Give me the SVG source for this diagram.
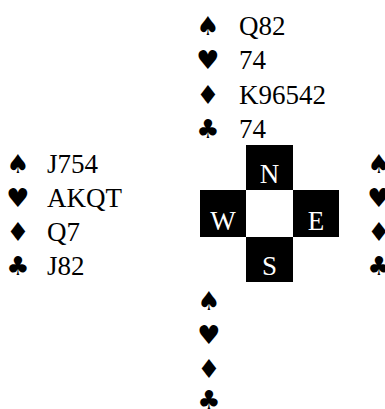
<svg xmlns="http://www.w3.org/2000/svg" width="385" height="409" viewBox="0 0 385 409">
<style>
.t{font-family:"Liberation Serif","DejaVu Serif",serif;font-size:27px;fill:#000}
.s{font-family:"DejaVu Sans",sans-serif;font-size:26px;fill:#000;text-anchor:middle}
.d{font-family:"Liberation Serif","DejaVu Serif",serif;font-size:27px;fill:#fff;text-anchor:middle}
.b{fill:#000}
</style>
<rect width="385" height="409" fill="#fff"/>
<g id="north">
<text class="s" x="208" y="35">♠</text><text class="t" x="239" y="35">Q82</text>
<text class="s" x="208" y="69">♥</text><text class="t" x="239" y="69">74</text>
<text class="s" x="208" y="104">♦</text><text class="t" x="239" y="104">K96542</text>
<text class="s" x="208" y="138">♣</text><text class="t" x="239" y="138">74</text>
</g>
<g id="west">
<text class="s" x="18" y="173">♠</text><text class="t" x="47" y="173">J754</text>
<text class="s" x="18" y="207">♥</text><text class="t" x="47" y="207">AKQT</text>
<text class="s" x="18" y="241">♦</text><text class="t" x="47" y="241">Q7</text>
<text class="s" x="18" y="275">♣</text><text class="t" x="47" y="275">J82</text>
</g>
<g id="east">
<text class="s" x="379" y="173">♠</text>
<text class="s" x="379" y="207">♥</text>
<text class="s" x="379" y="241">♦</text>
<text class="s" x="379" y="275">♣</text>
</g>
<g id="south">
<text class="s" x="209" y="310">♠</text>
<text class="s" x="209" y="344">♥</text>
<text class="s" x="209" y="378">♦</text>
<text class="s" x="209" y="409">♣</text>
</g>
<g id="compass">
<rect class="b" x="246" y="145" width="47" height="45"/>
<rect class="b" x="200" y="190" width="46" height="47"/>
<rect class="b" x="293" y="190" width="46" height="47"/>
<rect class="b" x="246" y="237" width="47" height="45"/>
<text class="d" x="269.5" y="183">N</text>
<text class="d" x="223" y="230">W</text>
<text class="d" x="316" y="230">E</text>
<text class="d" x="269.5" y="275">S</text>
</g>
</svg>
